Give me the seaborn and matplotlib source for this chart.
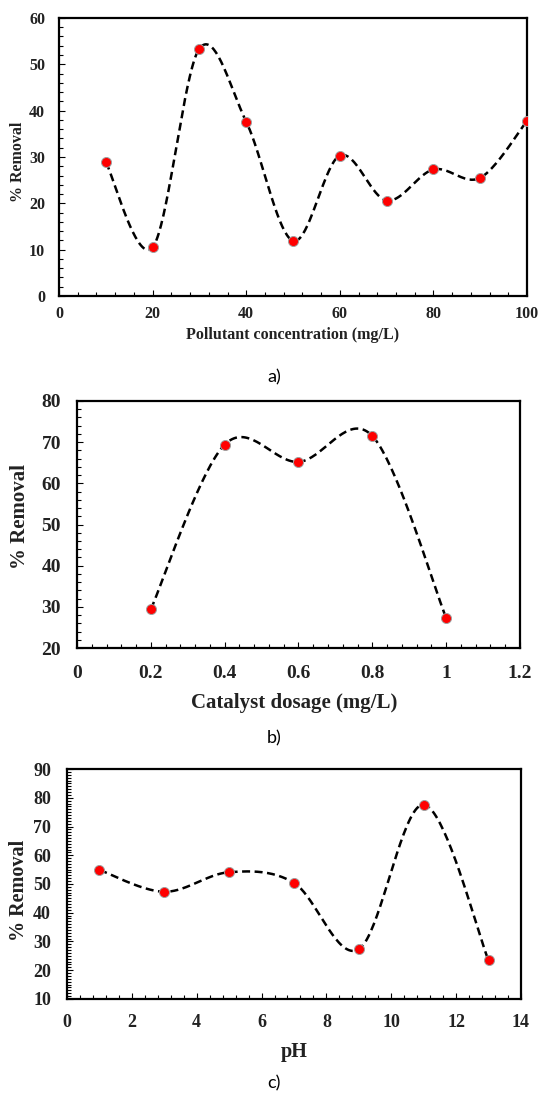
import numpy as np
import pandas as pd
import matplotlib
matplotlib.use("Agg")
import matplotlib.pyplot as plt
from matplotlib.ticker import MultipleLocator
import seaborn as sns

# ---------------- data ----------------
conc_x = [10, 20, 30, 40, 50, 60, 70, 80, 90, 100]
conc_y = [28.9, 10.5, 53.4, 37.6, 11.9, 30.3, 20.6, 27.3, 25.5, 37.8]

dose_x = [0.2, 0.4, 0.6, 0.8, 1.0]
dose_y = [29.4, 69.4, 65.2, 71.5, 27.3]

ph_x = [1, 3, 5, 7, 9, 11, 13]
ph_y = [54.9, 47.3, 54.1, 50.4, 27.3, 77.6, 23.4]

a_xticks = [0, 20, 40, 60, 80, 100]
a_yticks = [0, 10, 20, 30, 40, 50, 60]
b_xticks = [0, 0.2, 0.4, 0.6, 0.8, 1.0, 1.2]
b_xticklabels = ["0", "0.2", "0.4", "0.6", "0.8", "1", "1.2"]
b_yticks = [20, 30, 40, 50, 60, 70, 80]
c_xticks = [0, 2, 4, 6, 8, 10, 12, 14]
c_yticks = [10, 20, 30, 40, 50, 60, 70, 80, 90]


def smooth(x, y, n=40):
    """Excel-style smoothed line (Catmull-Rom / Bezier through the points)."""
    x = np.asarray(x, float)
    y = np.asarray(y, float)
    px = np.concatenate([[x[0]], x, [x[-1]]])
    py = np.concatenate([[y[0]], y, [y[-1]]])
    xs, ys = [], []
    t = np.linspace(0, 1, n)
    for i in range(1, len(px) - 2):
        p0 = np.array([px[i], py[i]])
        p3 = np.array([px[i + 1], py[i + 1]])
        c1 = p0 + (np.array([px[i + 1], py[i + 1]]) - np.array([px[i - 1], py[i - 1]])) / 6.0
        c2 = p3 - (np.array([px[i + 2], py[i + 2]]) - np.array([px[i], py[i]])) / 6.0
        b = ((1 - t)[:, None] ** 3) * p0 + 3 * ((1 - t)[:, None] ** 2) * t[:, None] * c1 \
            + 3 * (1 - t)[:, None] * (t[:, None] ** 2) * c2 + (t[:, None] ** 3) * p3
        xs.extend(b[:, 0])
        ys.extend(b[:, 1])
    return pd.DataFrame({"x": xs, "y": ys})


sns.set_theme(style="white")
plt.rcParams["font.family"] = ["Liberation Serif", "DejaVu Serif"]
plt.rcParams["font.weight"] = "bold"

fig = plt.figure(figsize=(5.41, 10.95), dpi=100)

panels = [
    dict(rect=[0.1091, 0.7297, 0.8651, 0.2539], x=conc_x, y=conc_y,
         xlim=(0, 100), ylim=(0, 60), xt=a_xticks, xtl=[str(v) for v in a_xticks],
         yt=a_yticks, xminor=4, yminor=2, tfs=11.5, lfs=11.5,
         xlabel="Pollutant concentration (mg/L)", xpad=7.5, ypad=10,
         xl=(0.5, -0.140), yl=(-0.088, 0.482), cap="a)", capy=377),
    dict(rect=[0.1423, 0.4082, 0.8189, 0.2256], x=dose_x, y=dose_y,
         xlim=(0, 1.2), ylim=(20, 80), xt=b_xticks, xtl=b_xticklabels,
         yt=b_yticks, xminor=0.04, yminor=2, tfs=14, lfs=15,
         xlabel="Catalyst dosage (mg/L)", xpad=12, ypad=11.5,
         xl=(0.49, -0.223), yl=(-0.129, 0.534), cap="b)", capy=738),
    dict(rect=[0.1238, 0.0877, 0.8392, 0.2100], x=ph_x, y=ph_y,
         xlim=(0, 14), ylim=(10, 90), xt=c_xticks, xtl=[str(v) for v in c_xticks],
         yt=c_yticks, xminor=0.4, yminor=1, tfs=13, lfs=14.5,
         xlabel="pH", xpad=11, ypad=11.5,
         xl=(0.5, -0.230), yl=(-0.106, 0.474), cap="c)", capy=1083),
]

for p in panels:
    ax = fig.add_axes(p["rect"])
    curve = smooth(p["x"], p["y"])
    sns.lineplot(data=curve, x="x", y="y", ax=ax, sort=False, color="black",
                 linewidth=1.8, dashes=False, linestyle=(0, (3.2, 1.8)), zorder=2)
    pts = pd.DataFrame({"x": p["x"], "y": p["y"]})
    sns.scatterplot(data=pts, x="x", y="y", ax=ax, color="#ff0000", s=52,
                    edgecolor="#a0a0a0", linewidth=0.7, zorder=3)
    ax.set_xlim(*p["xlim"])
    ax.set_ylim(*p["ylim"])
    ax.set_xticks(p["xt"])
    ax.set_xticklabels(p["xtl"], fontweight="bold")
    ax.set_yticks(p["yt"])
    ax.set_yticklabels([str(v) for v in p["yt"]], fontweight="bold")
    ax.xaxis.set_minor_locator(MultipleLocator(p["xminor"]))
    ax.yaxis.set_minor_locator(MultipleLocator(p["yminor"]))
    ax.tick_params(axis="x", which="both", direction="in", bottom=True, top=False,
                   pad=p["xpad"], labelsize=p["tfs"], colors="black", width=0.8)
    ax.tick_params(axis="y", which="both", direction="in", left=True, right=False,
                   pad=p["ypad"], labelsize=p["tfs"], colors="black", width=0.8)
    ax.tick_params(which="major", length=4)
    ax.tick_params(which="minor", length=3)
    for lab in ax.get_xticklabels() + ax.get_yticklabels():
        lab.set_color("#222222")
    for s in ax.spines.values():
        s.set_visible(True)
        s.set_color("black")
        s.set_linewidth(1.6)
    ax.set_xlabel(p["xlabel"], fontsize=p["lfs"], fontweight="bold", color="#222222")
    ax.set_ylabel("% Removal", fontsize=p["lfs"], fontweight="bold", color="#222222")
    ax.xaxis.label.set_va("center")
    ax.yaxis.label.set_va("center")
    ax.xaxis.set_label_coords(*p["xl"])
    ax.yaxis.set_label_coords(*p["yl"])
    ax.grid(False)
    ax.set_facecolor("white")
    fig.text(274 / 541, 1 - p["capy"] / 1095, p["cap"], ha="center", va="center",
             fontsize=13, fontweight="normal", family=["Lato", "DejaVu Sans"],
             color="black")

fig.savefig("out.png", dpi=100, facecolor="white")
